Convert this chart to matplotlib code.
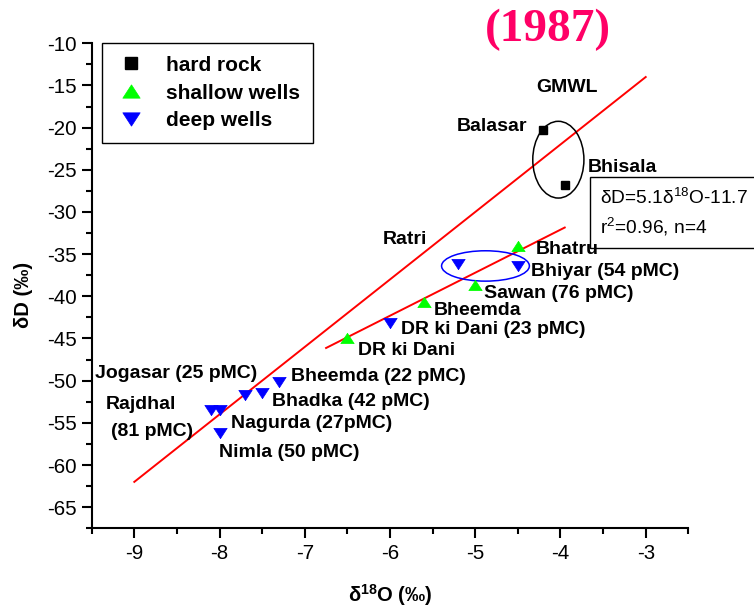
import matplotlib
matplotlib.use("Agg")
import matplotlib.pyplot as plt
from matplotlib.patches import Ellipse, Rectangle

plt.rcParams['font.family'] = ['Liberation Sans', 'DejaVu Sans']
plt.rcParams['mathtext.fontset'] = 'custom'
plt.rcParams['mathtext.rm'] = 'Liberation Sans'
plt.rcParams['mathtext.it'] = 'Liberation Sans:italic'
plt.rcParams['mathtext.bf'] = 'Liberation Sans:bold'

# --- data: delta-18O and delta-D (permil) ---
hard_rock_names = ["Balasar", "Bhisala"]
hard_rock_o18 = [-4.2, -3.95]
hard_rock_dD = [-20.3, -26.8]

shallow_names = ["Bhatru", "Sawan", "Bheemda", "DR ki Dani"]
shallow_o18 = [-4.5, -5.0, -5.6, -6.5]
shallow_dD = [-34.0, -38.7, -40.7, -45.0]

deep_names = ["Ratri", "Bhiyar", "DR ki Dani", "Bheemda", "Bhadka",
              "Jogasar", "Rajdhal", "Nagurda", "Nimla"]
deep_o18 = [-5.2, -4.5, -6.0, -7.3, -7.5, -7.7, -8.1, -8.0, -8.0]
deep_dD = [-36.2, -36.4, -43.2, -50.2, -51.5, -51.7, -53.5, -53.5, -56.2]

# Global meteoric water line: dD = 8 d18O + 10
gmwl_slope, gmwl_icpt = 8.0, 10.0
gmwl_x = [-9.0, -3.0]
# Local regression line: dD = 5.1 d18O - 11.7
reg_slope, reg_icpt = 5.1, -11.7
reg_x = [-6.75, -3.95]

# point labels (text, x, y) in data units
labels = [
    ("GMWL", -4.28, -15.3),
    ("Balasar", -5.22, -19.9),
    ("Bhisala", -3.68, -24.7),
    ("Ratri", -6.08, -33.3),
    ("Bhatru", -4.29, -34.4),
    ("Bhiyar (54 pMC)", -4.34, -37.05),
    ("Sawan (76 pMC)", -4.90, -39.7),
    ("Bheemda", -5.49, -41.7),
    ("DR ki Dani (23 pMC)", -5.87, -43.95),
    ("DR ki Dani", -6.37, -46.4),
    ("Bheemda (22 pMC)", -7.16, -49.55),
    ("Jogasar (25 pMC)", -9.46, -49.1),
    ("Bhadka (42 pMC)", -7.38, -52.45),
    ("Rajdhal", -9.33, -52.85),
    ("(81 pMC)", -9.27, -56.0),
    ("Nagurda (27pMC)", -7.87, -55.1),
    ("Nimla (50 pMC)", -8.01, -58.55),
]

x_ticks = [-9, -8, -7, -6, -5, -4, -3]
y_ticks = [-10, -15, -20, -25, -30, -35, -40, -45, -50, -55, -60, -65]

# slightly flattened triangle markers
tri_up = [(0, 0.77), (-1, -0.77), (1, -0.77), (0, 0.77)]
tri_down = [(0, -0.77), (-1, 0.77), (1, 0.77), (0, -0.77)]

fig = plt.figure(figsize=(7.54, 6.07), dpi=100)
ax = fig.add_axes([0.1216, 0.1297, 0.7913, 0.7990])

ax.set_xlim(-9.5, -2.5)
ax.set_ylim(-67.5, -10)

# lines
ax.plot(gmwl_x, [gmwl_slope * v + gmwl_icpt for v in gmwl_x], color='red', lw=1.4, zorder=2)
ax.plot(reg_x, [reg_slope * v + reg_icpt for v in reg_x], color='red', lw=1.4, zorder=2)

# grouping ellipses
ax.add_patch(Ellipse((-4.025, -23.8), 0.60, 9.1, fill=False, ec='black', lw=1.1, zorder=2))
ax.add_patch(Ellipse((-4.88, -36.4), 1.03, 3.6, fill=False, ec='blue', lw=1.1, zorder=2))

# markers
ax.plot(hard_rock_o18, hard_rock_dD, ls='none', marker='s', ms=6.3, color='black',
        label='hard rock', zorder=3)
ax.plot(shallow_o18, shallow_dD, ls='none', marker=tri_up, ms=9.6, color='#00FF00',
        mew=0.5, label='shallow wells', zorder=3)
ax.plot(deep_o18, deep_dD, ls='none', marker=tri_down, ms=9.6, color='#0000FF',
        mew=0.5, label='deep wells', zorder=3)

for txt, tx, ty in labels:
    ax.text(tx, ty, txt, fontsize=14, fontweight='bold', ha='left', va='center', zorder=4)

# axes styling
for side in ('top', 'right'):
    ax.spines[side].set_visible(False)
for side in ('left', 'bottom'):
    ax.spines[side].set_linewidth(1.5)
ax.set_xticks(x_ticks)
ax.set_yticks(y_ticks)
ax.set_xticklabels([str(v) for v in x_ticks])
ax.set_yticklabels([str(v) for v in y_ticks])
ax.set_xticks([v + 0.5 for v in [-10] + x_ticks], minor=True)
ax.set_yticks([v - 2.5 for v in y_ticks], minor=True)
ax.tick_params(which='major', direction='out', length=7, width=1.5, labelsize=14.8, pad=4)
ax.tick_params(which='minor', direction='out', length=4, width=1.5)

ax.set_xlabel(r'δ$^{\mathbf{18}}$O (‰)', fontsize=14.5, fontweight='bold')
ax.xaxis.set_label_coords(0.5, -0.112)
ax.set_ylabel('δD (‰)', fontsize=14.5, fontweight='bold')
ax.yaxis.set_label_coords(-0.098, 0.481)

leg = ax.legend(loc='upper left', bbox_to_anchor=(0.017, 1.0), borderaxespad=0,
                fancybox=False, edgecolor='black', framealpha=1,
                prop={'size': 15, 'weight': 'bold'}, handletextpad=0.9,
                handlelength=1.6, labelspacing=0.42, borderpad=0.6, markerscale=1.3)
leg.get_frame().set_linewidth(1.0)

# regression summary box
fig.patches.append(Rectangle((590 / 754, 1 - 247.5 / 607), 200 / 754, 70.8 / 607,
                             transform=fig.transFigure, fill=False, ec='black', lw=1.0))
fig.text(600 / 754, 1 - 198.3 / 607, r'δD=5.1δ$^{18}$O-11.7', fontsize=13.8,
         ha='left', va='center')
fig.text(600 / 754, 1 - 226.7 / 607, r'r$^{2}$=0.96, n=4', fontsize=13.8,
         ha='left', va='center')

fig.text(548 / 754, 1 - 30 / 607, '(1987)', fontsize=34, fontweight='bold',
         family='Liberation Serif', color='#FF0066', ha='center', va='center')

fig.savefig('out.png', dpi=100)
